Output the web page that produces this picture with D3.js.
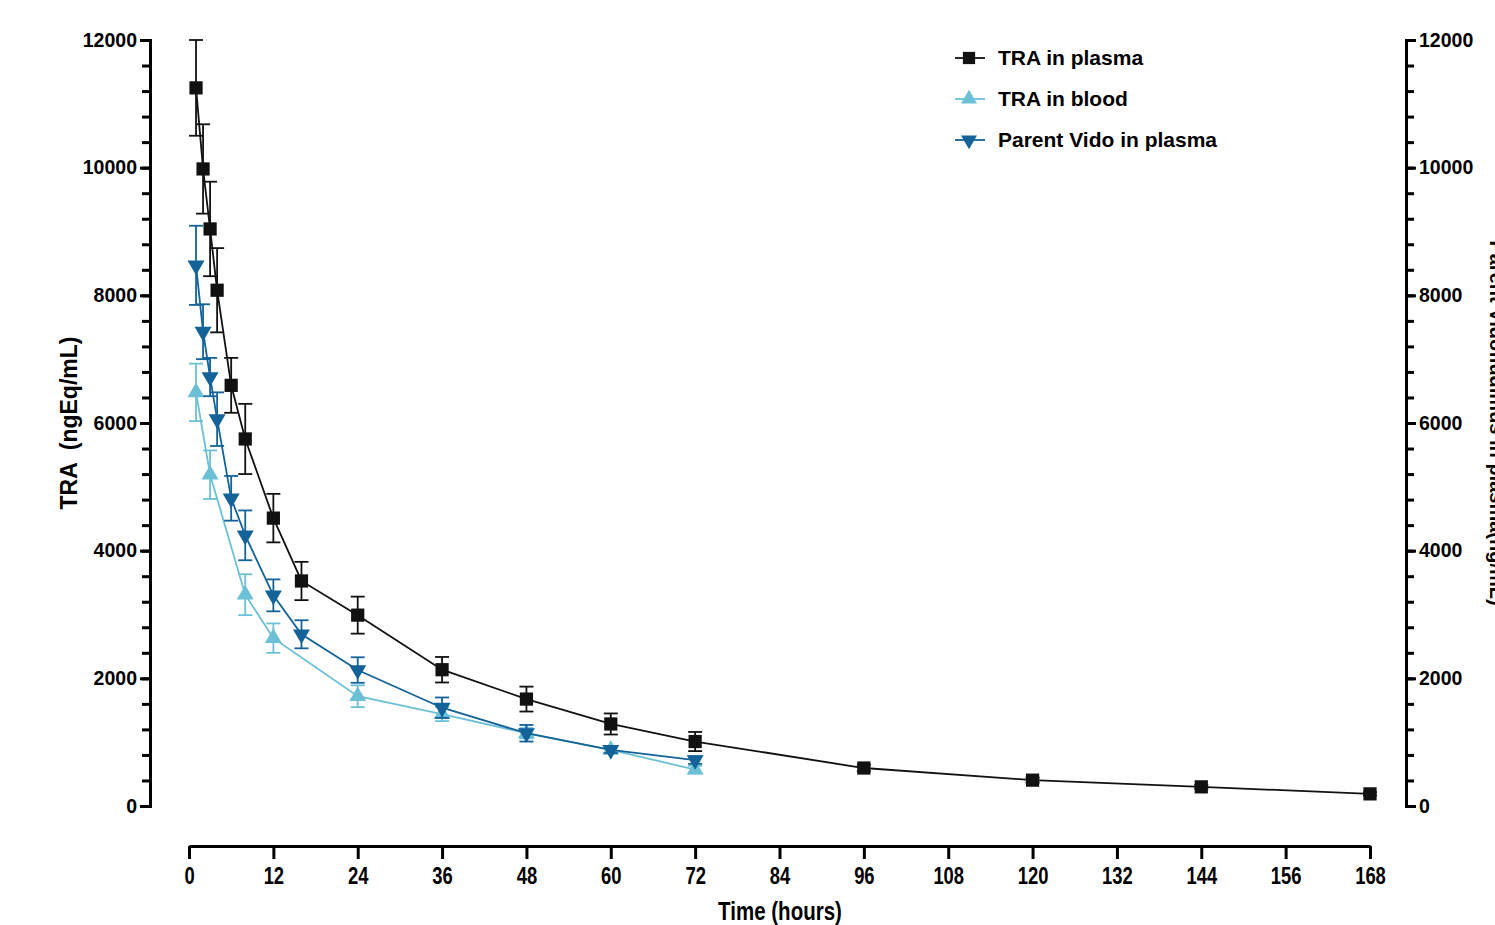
<!DOCTYPE html>
<html>
<head>
<meta charset="utf-8">
<script src="https://cdn.jsdelivr.net/npm/d3@7"></script>
<style>
  body { margin: 0; background: #fff; }
  text { font-family: "Liberation Sans", Arial, sans-serif; font-weight: bold; }
</style>
</head>
<body>
<script>
var w = 1495;
var h = 925;

// TRA in plasma
var timesPlasma = [1, 2, 3, 4, 6, 8, 12, 16, 24, 36, 48, 60, 72, 96, 120, 144, 168];
var plasmaMean = [11250, 9980, 9040, 8080, 6590, 5750, 4510, 3525, 2990, 2135, 1675, 1285, 1010, 595, 405, 300, 190];
var plasmaSD = [750, 700, 740, 660, 430, 550, 380, 300, 290, 200, 195, 165, 150, 50, 40, 30, 25];

// TRA in blood
var timesBlood = [1, 3, 8, 12, 24, 36, 48, 60, 72];
var bloodMean = [6480, 5190, 3310, 2630, 1720, 1440, 1140, 880, 570];
var bloodSD = [450, 380, 320, 230, 170, 110, 80, 50, 60];

// Parent Vido in plasma
var timesVido = [1, 2, 3, 4, 6, 8, 12, 16, 24, 36, 48, 60, 72];
var vidoMean = [8470, 7430, 6720, 6060, 4820, 4240, 3300, 2690, 2130, 1540, 1140, 880, 720];
var vidoSD = [620, 430, 300, 420, 350, 390, 250, 220, 200, 160, 130, 50, 60];

var xTicks = [0, 12, 24, 36, 48, 60, 72, 84, 96, 108, 120, 132, 144, 156, 168];
var yTicks = [0, 2000, 4000, 6000, 8000, 10000, 12000];
var yMinorTicks = d3.range(0, 12001, 400);

var seriesNames = ["TRA in plasma", "TRA in blood", "Parent Vido in plasma"];
var seriesColors = ["#111111", "#6cc0d6", "#136399"];
var seriesSymbols = [d3.symbolSquare, d3.symbolTriangle, d3.symbolTriangle];

function build(times, means, sds) {
  var out = [];
  for (let i = 0; i < times.length; i++) {
    out.push({ t: times[i], v: means[i], sd: sds[i] });
  }
  return out;
}

var series = [
  { name: seriesNames[0], color: seriesColors[0], symbol: seriesSymbols[0], flip: false, data: build(timesPlasma, plasmaMean, plasmaSD) },
  { name: seriesNames[1], color: seriesColors[1], symbol: seriesSymbols[1], flip: false, data: build(timesBlood, bloodMean, bloodSD) },
  { name: seriesNames[2], color: seriesColors[2], symbol: seriesSymbols[2], flip: true, data: build(timesVido, vidoMean, vidoSD) },
];

var xScale = d3.scaleLinear().domain([0, 168]).range([189, 1370]);
var yScale = d3.scaleLinear().domain([0, 12000]).range([806, 40]);

var svg = d3.select("body").append("svg").attr("width", w).attr("height", h);

//Left axis
var leftAxis = svg.append("g").attr("transform", "translate(150,0)");
leftAxis.call(d3.axisLeft(yScale).tickValues(yMinorTicks).tickSize(8).tickFormat(""));
leftAxis.append("g").call(d3.axisLeft(yScale).tickValues(yTicks).tickSize(10).tickPadding(3).tickFormat(d3.format("d")));
leftAxis.selectAll("path, line").attr("stroke", "#000").attr("stroke-width", 3);
leftAxis.selectAll("text").attr("font-size", "19.5px").attr("fill", "#000").attr("font-family", null);

//Right axis
var rightAxis = svg.append("g").attr("transform", "translate(1406,0)");
rightAxis.call(d3.axisRight(yScale).tickValues(yMinorTicks).tickSize(8).tickFormat(""));
rightAxis.append("g").call(d3.axisRight(yScale).tickValues(yTicks).tickSize(10).tickPadding(3).tickFormat(d3.format("d")));
rightAxis.selectAll("path, line").attr("stroke", "#000").attr("stroke-width", 3);
rightAxis.selectAll("text").attr("font-size", "19.5px").attr("fill", "#000").attr("font-family", null);

//Bottom axis, offset below the plot; labels squeezed to look condensed
var bottomAxis = svg.append("g").attr("transform", "translate(0,846)");
bottomAxis.call(d3.axisBottom(xScale).tickValues(xTicks).tickSize(13).tickSizeOuter(0).tickPadding(9));
bottomAxis.selectAll("path, line").attr("stroke", "#000").attr("stroke-width", 3);
bottomAxis.selectAll("text")
  .attr("font-size", "23px")
  .attr("fill", "#000")
  .attr("font-family", null)
  .attr("transform", "scale(0.8,1)");

//Axis titles
svg.append("text")
  .attr("transform", "translate(77,423) rotate(-90)")
  .attr("text-anchor", "middle")
  .attr("font-size", "23px")
  .attr("xml:space", "preserve")
  .text("TRA  (ngEq/mL)");

svg.append("text")
  .attr("transform", "translate(1490,423) rotate(90)")
  .attr("text-anchor", "middle")
  .attr("font-size", "20px")
  .text("Parent Vidofludimus in plasma(ng/mL)");

svg.append("text")
  .attr("transform", "translate(780,920) scale(0.82,1)")
  .attr("text-anchor", "middle")
  .attr("font-size", "25px")
  .text("Time (hours)");

var line = d3.line()
  .x(function (d) { return xScale(d.t); })
  .y(function (d) { return yScale(d.v); });

var drawOrder = [series[1], series[2], series[0]];

drawOrder.forEach(function (s) {
  var g = svg.append("g");

  g.append("path")
    .datum(s.data)
    .attr("d", line)
    .attr("fill", "none")
    .attr("stroke", s.color)
    .attr("stroke-width", 1.8);

  //Error bars
  var eb = g.selectAll(".eb").data(s.data).enter().append("g");
  eb.append("line")
    .attr("x1", function (d) { return xScale(d.t); })
    .attr("x2", function (d) { return xScale(d.t); })
    .attr("y1", function (d) { return yScale(d.v - d.sd); })
    .attr("y2", function (d) { return yScale(d.v + d.sd); })
    .attr("stroke", s.color)
    .attr("stroke-width", 1.8);
  eb.append("line")
    .attr("x1", function (d) { return xScale(d.t) - 7; })
    .attr("x2", function (d) { return xScale(d.t) + 7; })
    .attr("y1", function (d) { return yScale(d.v + d.sd); })
    .attr("y2", function (d) { return yScale(d.v + d.sd); })
    .attr("stroke", s.color)
    .attr("stroke-width", 1.8);
  eb.append("line")
    .attr("x1", function (d) { return xScale(d.t) - 7; })
    .attr("x2", function (d) { return xScale(d.t) + 7; })
    .attr("y1", function (d) { return yScale(d.v - d.sd); })
    .attr("y2", function (d) { return yScale(d.v - d.sd); })
    .attr("stroke", s.color)
    .attr("stroke-width", 1.8);

  //Markers
  var size = s.symbol === d3.symbolSquare ? 175 : 125;
  g.selectAll(".pt").data(s.data).enter().append("path")
    .attr("d", d3.symbol().type(s.symbol).size(size))
    .attr("transform", function (d) {
      return "translate(" + xScale(d.t) + "," + yScale(d.v) + ")" + (s.flip ? " rotate(180)" : "");
    })
    .attr("fill", s.color);
});

//Legend
var legend = svg.append("g").attr("transform", "translate(955,58)");
series.forEach(function (s, i) {
  var row = legend.append("g").attr("transform", "translate(0," + i * 41 + ")");
  row.append("line").attr("x1", 0).attr("x2", 30).attr("y1", 0).attr("y2", 0)
    .attr("stroke", s.color).attr("stroke-width", 1.8);
  row.append("path")
    .attr("d", d3.symbol().type(s.symbol).size(s.symbol === d3.symbolSquare ? 150 : 110))
    .attr("transform", "translate(14,0)" + (s.flip ? " rotate(180)" : ""))
    .attr("fill", s.color);
  row.append("text").attr("x", 43).attr("y", 7).attr("font-size", "21px").text(s.name);
});
</script>
</body>
</html>
